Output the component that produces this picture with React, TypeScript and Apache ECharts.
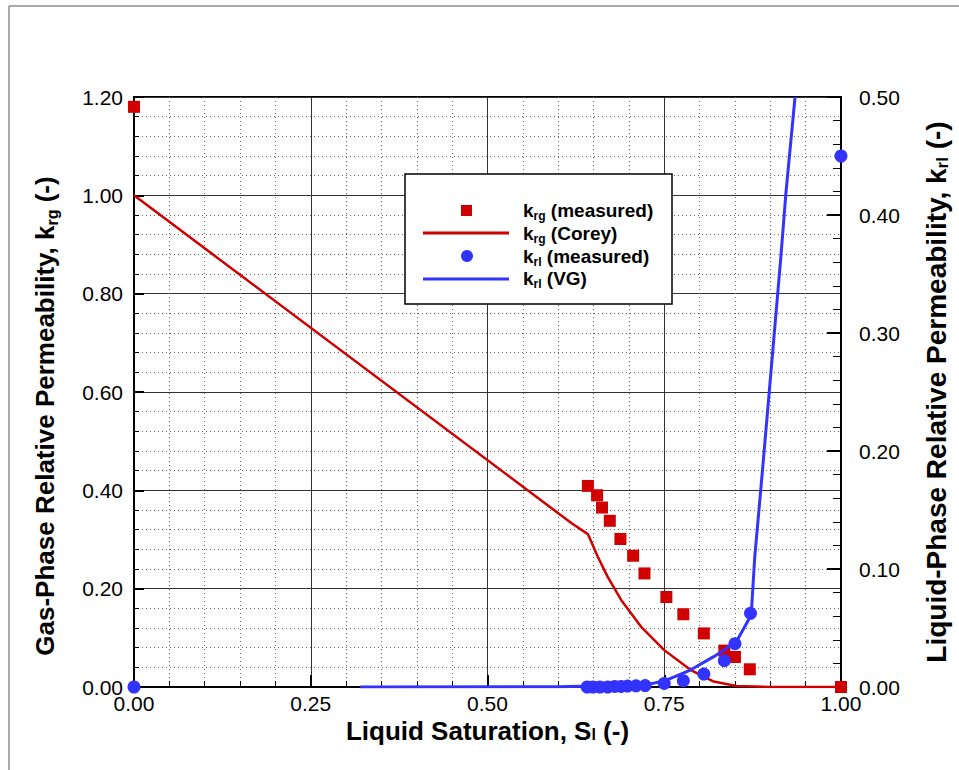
import React, { useEffect, useRef } from "react";
import * as echarts from "echarts";

// x-axis: liquid saturation
const xTicks = [0, 0.25, 0.5, 0.75, 1.0];
// k_rg measured (left axis)
const krgMeasS = [0.0, 0.642, 0.655, 0.662, 0.673, 0.688, 0.706, 0.722, 0.753, 0.777, 0.806, 0.835, 0.85, 0.871, 1.0];
const krgMeasV = [1.18, 0.409, 0.39, 0.365, 0.338, 0.301, 0.267, 0.231, 0.183, 0.148, 0.109, 0.074, 0.061, 0.036, 0.0];
// k_rg Corey (left axis)
const coreyS = [0.0, 0.62, 0.642, 0.656, 0.67, 0.689, 0.717, 0.75, 0.787, 0.82, 0.852, 0.9, 1.0];
const coreyV = [1.0, 0.332, 0.311, 0.265, 0.224, 0.177, 0.123, 0.075, 0.035, 0.011, 0.002, 0.0, 0.0];
// k_rl measured (right axis)
const krlMeasS = [0.0, 0.641, 0.649, 0.659, 0.67, 0.68, 0.689, 0.698, 0.71, 0.723, 0.75, 0.777, 0.806, 0.835, 0.85, 0.872, 1.0];
const krlMeasV = [0.0, 0.0, 0.0, 0.0, 0.0, 0.0005, 0.0005, 0.0008, 0.001, 0.0012, 0.003, 0.0053, 0.011, 0.0223, 0.0367, 0.0624, 0.45];
// k_rl van Genuchten (right axis)
const vgS = [0.32, 0.6, 0.65, 0.7, 0.726, 0.754, 0.787, 0.82, 0.852, 0.873, 0.878, 0.889, 0.915, 0.922, 0.935];
const vgV = [0.0, 0.0003, 0.0008, 0.0015, 0.002, 0.006, 0.0144, 0.0257, 0.0384, 0.061, 0.11, 0.184, 0.365, 0.418, 0.5];

const RED = "#d00000";
const BLUE = "#3333ff";
const FONT = "Liberation Sans, Arial, sans-serif";

const zip = (a: number[], b: number[]) => a.map((x, i) => [x, b[i]]);

const richName = (size: number, lineHeight: number, subLineHeight: number, padding?: number[]) => ({
  fontFamily: FONT,
  fontSize: size,
  fontWeight: "bold" as const,
  color: "#000",
  lineHeight,
  padding: padding || 0,
  rich: {
    sub: {
      fontFamily: FONT,
      fontSize: Math.round(size * 0.6),
      fontWeight: "bold" as const,
      color: "#000",
      lineHeight: subLineHeight,
      verticalAlign: "bottom" as const,
    },
  },
});

export default function App() {
  const ref = useRef<HTMLDivElement>(null);
  useEffect(() => {
    if (!ref.current) return;
    const chart = echarts.init(ref.current, undefined, { renderer: "svg" });
    const legendText = (t: string, y: number) => ({
      type: "text",
      left: 523,
      top: y - 13,
      style: {
        text: t,
        fontFamily: FONT,
        fontSize: 19,
        fontWeight: "bold",
        fill: "#000",
        lineHeight: 24,
        rich: {
          sub: {
            fontFamily: FONT,
            fontSize: 12,
            fontWeight: "bold",
            fill: "#000",
            lineHeight: 12,
            verticalAlign: "bottom",
          },
        },
      },
      z: 101,
    });
    const tickLabel = (margin: number) => ({
      margin,
      fontFamily: FONT,
      fontSize: 21,
      color: "#000",
      formatter: (v: number) => v.toFixed(2),
    });
    chart.setOption({
      animation: false,
      backgroundColor: "#fff",
      grid: {
        left: 134,
        right: 110,
        top: 97,
        bottom: 83,
        show: true,
        borderColor: "#000",
        borderWidth: 2,
        backgroundColor: "transparent",
      },
      xAxis: {
        type: "value",
        min: xTicks[0],
        max: xTicks[xTicks.length - 1],
        interval: 0.25,
        name: "Liquid Saturation, S{sub|l} (-)",
        nameLocation: "middle",
        nameGap: 33,
        nameMoveOverlap: false,
        nameTextStyle: richName(26, 22, 8),
        axisLine: { show: true, lineStyle: { color: "#000", width: 2 } },
        axisTick: { show: true, inside: true, length: 12, lineStyle: { color: "#000", width: 2 } },
        minorTick: { show: true, splitNumber: 5, length: 6, lineStyle: { color: "#000", width: 1 } },
        axisLabel: tickLabel(6),
        splitLine: { show: true, lineStyle: { color: "#333", width: 1 } },
        minorSplitLine: { show: true, lineStyle: { color: "#666", width: 1, type: [1, 3] } },
      },
      yAxis: [
        {
          type: "value",
          min: 0,
          max: 1.2,
          interval: 0.2,
          position: "left",
          name: "Gas-Phase Relative Permeability, k{sub|rg} (-)",
          nameLocation: "middle",
          nameRotate: 90,
          nameGap: 74,
          nameMoveOverlap: false,
          nameTextStyle: richName(26, 30, 14, [0, 48, 0, 0]),
          axisLine: { show: true, lineStyle: { color: "#000", width: 2 } },
          axisTick: { show: true, inside: true, length: 10, lineStyle: { color: "#000", width: 2 } },
          minorTick: { show: true, splitNumber: 5, length: 5, lineStyle: { color: "#000", width: 1 } },
          axisLabel: tickLabel(11),
          splitLine: { show: true, lineStyle: { color: "#333", width: 1 } },
          minorSplitLine: { show: true, lineStyle: { color: "#666", width: 1, type: [1, 3] } },
        },
        {
          type: "value",
          min: 0,
          max: 0.5,
          interval: 0.1,
          position: "right",
          name: "Liquid-Phase Relative Permeability, k{sub|rl} (-)",
          nameLocation: "middle",
          nameRotate: 90,
          nameGap: 80,
          nameMoveOverlap: false,
          nameTextStyle: richName(28, 30, 14),
          axisLine: { show: true, lineStyle: { color: "#000", width: 2 } },
          axisTick: { show: true, inside: true, length: 14, lineStyle: { color: "#000", width: 2 } },
          minorTick: { show: true, splitNumber: 5, length: 8, lineStyle: { color: "#000", width: 1 } },
          axisLabel: tickLabel(18),
          splitLine: { show: false },
          minorSplitLine: { show: false },
        },
      ],
      series: [
        {
          name: "krg Corey",
          type: "line",
          yAxisIndex: 0,
          data: zip(coreyS, coreyV),
          showSymbol: false,
          symbol: "none",
          lineStyle: { color: RED, width: 2.5 },
          z: 2,
        },
        {
          name: "krg measured",
          type: "scatter",
          yAxisIndex: 0,
          data: zip(krgMeasS, krgMeasV),
          symbol: "rect",
          symbolSize: 12,
          itemStyle: { color: RED, opacity: 1 },
          clip: false,
          z: 3,
        },
        {
          name: "krl VG",
          type: "line",
          yAxisIndex: 1,
          data: zip(vgS, vgV),
          showSymbol: false,
          symbol: "none",
          lineStyle: { color: BLUE, width: 3 },
          z: 4,
        },
        {
          name: "krl measured",
          type: "scatter",
          yAxisIndex: 1,
          data: zip(krlMeasS, krlMeasV),
          symbol: "circle",
          symbolSize: 13,
          itemStyle: { color: BLUE, opacity: 1 },
          clip: false,
          z: 5,
        },
      ],
      graphic: [
        {
          type: "polyline",
          shape: { points: [[9, 770], [9, 6], [959, 6]] },
          style: { stroke: "#555", lineWidth: 1, fill: null },
          silent: true,
        },
        {
          type: "rect",
          shape: { x: 405, y: 174, width: 267, height: 130 },
          style: { fill: "#fff", stroke: "#000", lineWidth: 1.5 },
          z: 100,
        },
        {
          type: "rect",
          shape: { x: 461, y: 205, width: 11, height: 11 },
          style: { fill: RED },
          z: 101,
        },
        {
          type: "line",
          shape: { x1: 423, y1: 233, x2: 509, y2: 233 },
          style: { stroke: RED, lineWidth: 3 },
          z: 101,
        },
        {
          type: "circle",
          shape: { cx: 467, cy: 256, r: 6 },
          style: { fill: BLUE },
          z: 101,
        },
        {
          type: "line",
          shape: { x1: 423, y1: 279, x2: 509, y2: 279 },
          style: { stroke: BLUE, lineWidth: 3 },
          z: 101,
        },
        legendText("k{sub|rg} (measured)", 211),
        legendText("k{sub|rg} (Corey)", 234),
        legendText("k{sub|rl} (measured)", 257),
        legendText("k{sub|rl} (VG)", 279),
      ],
    });
    return () => chart.dispose();
  }, []);
  return (
    <div
      ref={ref}
      style={{ position: "absolute", left: 0, top: 0, width: 959, height: 770, background: "#fff" }}
    />
  );
}
